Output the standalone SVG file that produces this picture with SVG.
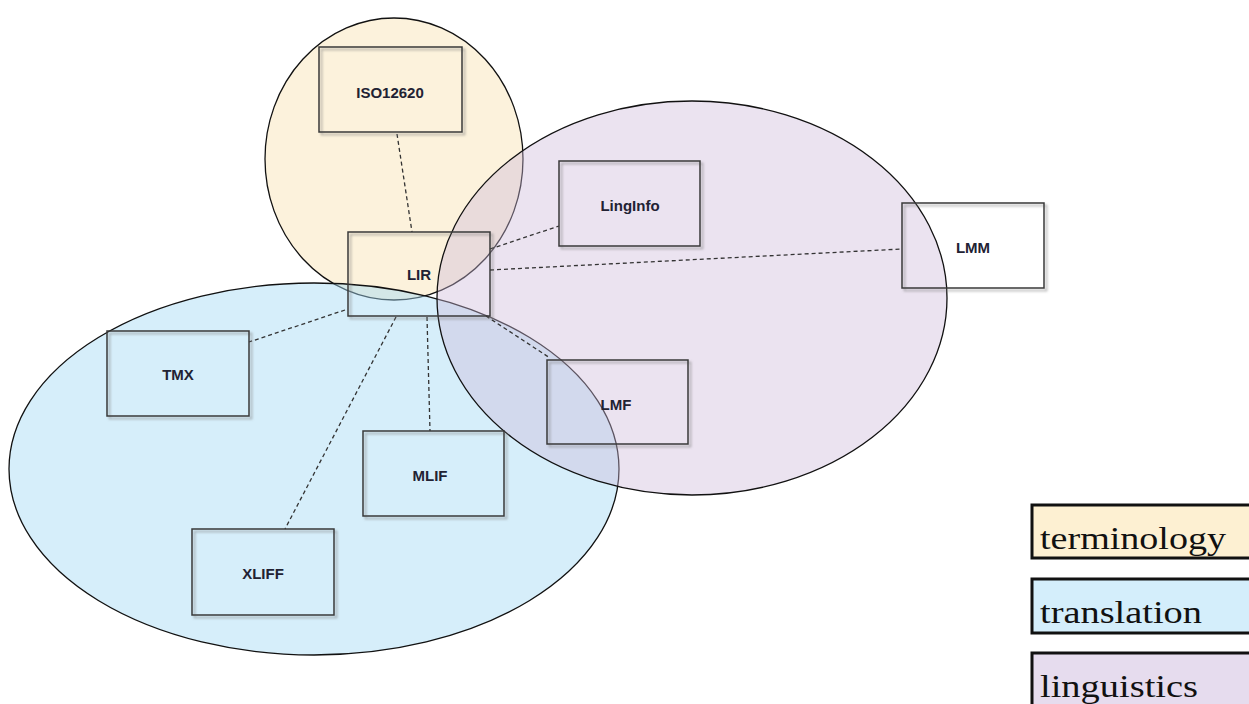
<svg xmlns="http://www.w3.org/2000/svg" width="1249" height="704" viewBox="0 0 1249 704">
  <defs>
    <filter id="shadow" x="-10%" y="-10%" width="125%" height="130%">
      <feDropShadow dx="2.5" dy="2.5" stdDeviation="1" flood-color="#777" flood-opacity="0.6"/>
    </filter>
  </defs>
  <style>
    .node rect { fill: none; stroke: #3a3a3a; stroke-width: 1.5; filter: url(#shadow); }
    .node text { font-family: "Liberation Sans", Arial, sans-serif; font-weight: bold; font-size: 15px; fill: #222233; text-anchor: middle; dominant-baseline: central; }
    .region { stroke: #111; stroke-width: 1.3; }
    .terminology { fill: rgb(250,230,185); fill-opacity: 0.5; }
    .translation { fill: rgb(165,218,245); fill-opacity: 0.45; }
    .linguistics { fill: rgb(205,185,217); fill-opacity: 0.4; }
    .edge { stroke: #333; stroke-width: 1.3; stroke-dasharray: 4 3; fill: none; }
    .key rect { stroke: #111; stroke-width: 3; }
    .key text { font-family: "Liberation Serif", "Times New Roman", serif; font-size: 32px; fill: #111; }
  </style>
  <rect width="1249" height="704" fill="#ffffff"/>

  <!-- domain regions -->
  <g id="regions">
    <ellipse class="region terminology" cx="394" cy="159" rx="129" ry="141"/>
    <ellipse class="region translation" cx="314" cy="469" rx="305" ry="186"/>
    <ellipse class="region linguistics" cx="692" cy="298" rx="255" ry="197"/>
  </g>

  <!-- relations to LIR -->
  <g id="connectors">
    <line class="edge" x1="397" y1="134" x2="412" y2="232"/>
    <line class="edge" x1="490" y1="249" x2="559" y2="226"/>
    <line class="edge" x1="490" y1="270" x2="902" y2="249"/>
    <line class="edge" x1="486" y1="316" x2="550" y2="358"/>
    <line class="edge" x1="427" y1="317" x2="430" y2="431"/>
    <line class="edge" x1="396" y1="317" x2="285" y2="529"/>
    <line class="edge" x1="345" y1="310" x2="249" y2="342"/>
  </g>

  <!-- standards -->
  <g id="node-iso12620" class="node"><rect x="319" y="47" width="143" height="85"/><text x="390" y="92">ISO12620</text></g>
  <g id="node-lir" class="node"><rect x="348" y="232" width="142" height="84"/><text x="419" y="274">LIR</text></g>
  <g id="node-linginfo" class="node"><rect x="559" y="161" width="141" height="85"/><text x="630" y="205">LingInfo</text></g>
  <g id="node-lmm" class="node"><rect x="902" y="203" width="142" height="85"/><text x="973" y="247">LMM</text></g>
  <g id="node-tmx" class="node"><rect x="107" y="331" width="142" height="85"/><text x="178" y="374">TMX</text></g>
  <g id="node-lmf" class="node"><rect x="547" y="360" width="141" height="84"/><text x="616" y="404">LMF</text></g>
  <g id="node-mlif" class="node"><rect x="363" y="431" width="141" height="85"/><text x="430" y="475">MLIF</text></g>
  <g id="node-xliff" class="node"><rect x="192" y="529" width="142" height="86"/><text x="263" y="573">XLIFF</text></g>

  <!-- legend -->
  <g id="legend" class="key">
    <rect x="1032" y="505" width="230" height="53" fill="#fdf0d2"/>
    <text x="1040" y="549" textLength="186" lengthAdjust="spacingAndGlyphs">terminology</text>
    <rect x="1032" y="579" width="230" height="54" fill="#d4eefb"/>
    <text x="1040" y="623" textLength="162" lengthAdjust="spacingAndGlyphs">translation</text>
    <rect x="1032" y="653" width="230" height="60" fill="#e6dcee"/>
    <text x="1040" y="697" textLength="158" lengthAdjust="spacingAndGlyphs">linguistics</text>
  </g>
</svg>
